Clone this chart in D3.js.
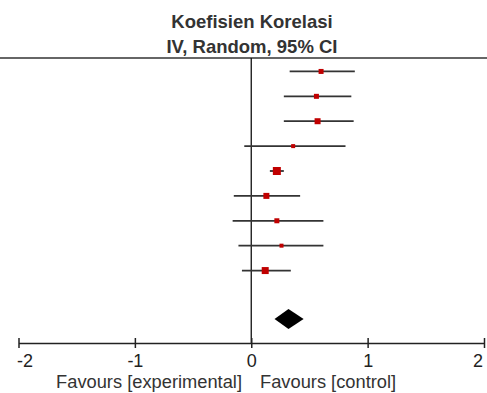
<!DOCTYPE html>
<html>
<head>
<meta charset="utf-8">
<script src="https://cdn.jsdelivr.net/npm/d3@7"></script>
<style>
  html, body { margin: 0; padding: 0; background: #fff; }
  svg { display: block; }
</style>
</head>
<body>
<svg id="chart" width="487" height="393"></svg>
<script>
// Data
const studies = ["1", "2", "3", "4", "5", "6", "7", "8", "9"];
const estimate = [0.60, 0.56, 0.57, 0.36, 0.22, 0.13, 0.22, 0.26, 0.12];
const lower    = [0.33, 0.28, 0.28, -0.06, 0.16, -0.15, -0.16, -0.11, -0.08];
const upper    = [0.89, 0.86, 0.88, 0.81, 0.28, 0.42, 0.62, 0.62, 0.34];
const weight   = [5, 5, 6, 4, 8, 6, 5, 4, 7];
const pooled = { est: 0.32, lo: 0.20, hi: 0.45 };
const tickValues = [-2, -1, 0, 1, 2];
const titleLines = ["Koefisien Korelasi", "IV, Random, 95% CI"];
const favourLeft = "Favours [experimental]";
const favourRight = "Favours [control]";

const svg = d3.select("#chart");
const font = "'Liberation Sans', Arial, sans-serif";

const x = d3.scaleLinear().domain([-2, 2]).range([18.5, 484]);
const y = d3.scaleBand().domain(studies).range([58, 283]).paddingInner(0).paddingOuter(0.02);
const rowY = d => y(d) + y.bandwidth() / 2 + 0.5;
const diamondY = 319;
const axisY = 343;

// Title
svg.selectAll("text.title").data(titleLines).enter().append("text")
  .attr("class", "title")
  .attr("x", 252).attr("y", (d, i) => 28 + i * 24.5)
  .attr("text-anchor", "middle")
  .attr("font-family", font).attr("font-weight", "bold").attr("font-size", 18.5)
  .attr("fill", "#333")
  .text(d => d);

// Header rule
svg.append("line").attr("x1", 0).attr("x2", 487).attr("y1", 58).attr("y2", 58)
  .attr("stroke", "#333").attr("stroke-width", 1.5);

// Zero line
svg.append("line").attr("x1", x(0)).attr("x2", x(0)).attr("y1", 58).attr("y2", axisY)
  .attr("stroke", "#111").attr("stroke-width", 1.3);

// CI lines
const rows = studies.map((s, i) => ({ s, est: estimate[i], lo: lower[i], hi: upper[i], w: weight[i] }));
svg.selectAll("line.ci").data(rows).enter().append("line")
  .attr("class", "ci")
  .attr("x1", d => x(d.lo)).attr("x2", d => x(d.hi))
  .attr("y1", d => rowY(d.s)).attr("y2", d => rowY(d.s))
  .attr("stroke", "#333").attr("stroke-width", 1.8);

// Squares
svg.selectAll("rect.pt").data(rows).enter().append("rect")
  .attr("class", "pt")
  .attr("x", d => x(d.est) - d.w / 2).attr("y", d => rowY(d.s) - d.w / 2)
  .attr("width", d => d.w).attr("height", d => d.w)
  .attr("fill", "#c00000");

// Pooled diamond
svg.append("path")
  .attr("d", `M${x(pooled.lo)},${diamondY} L${x(pooled.est)},${diamondY - 10} L${x(pooled.hi)},${diamondY} L${x(pooled.est)},${diamondY + 10} Z`)
  .attr("fill", "#000");

// Axis
const axis = d3.axisBottom(x).tickValues(tickValues).tickSize(5).tickSizeOuter(0)
  .tickFormat(d => String(d));
const g = svg.append("g").attr("transform", `translate(0,${axisY})`).call(axis);
g.select(".domain").attr("stroke", "#222").attr("stroke-width", 1.5);
g.selectAll(".tick line").attr("y1", -5).attr("y2", 5).attr("stroke", "#222").attr("stroke-width", 1.5);
g.selectAll(".tick text")
  .attr("font-family", font).attr("font-size", 18).attr("fill", "#222")
  .attr("y", 24).attr("dy", null);
g.selectAll(".tick text").filter(d => d === -2).attr("text-anchor", "start").attr("x", -2);
g.selectAll(".tick text").filter(d => d === 2).attr("text-anchor", "end").attr("x", -1.5);

// Favours labels
svg.append("text").attr("x", 242).attr("y", 388).attr("text-anchor", "end")
  .attr("font-family", font).attr("font-size", 18.3).attr("fill", "#333").text(favourLeft);
svg.append("text").attr("x", 260).attr("y", 388).attr("text-anchor", "start")
  .attr("font-family", font).attr("font-size", 18.3).attr("fill", "#333").text(favourRight);
</script>
</body>
</html>
